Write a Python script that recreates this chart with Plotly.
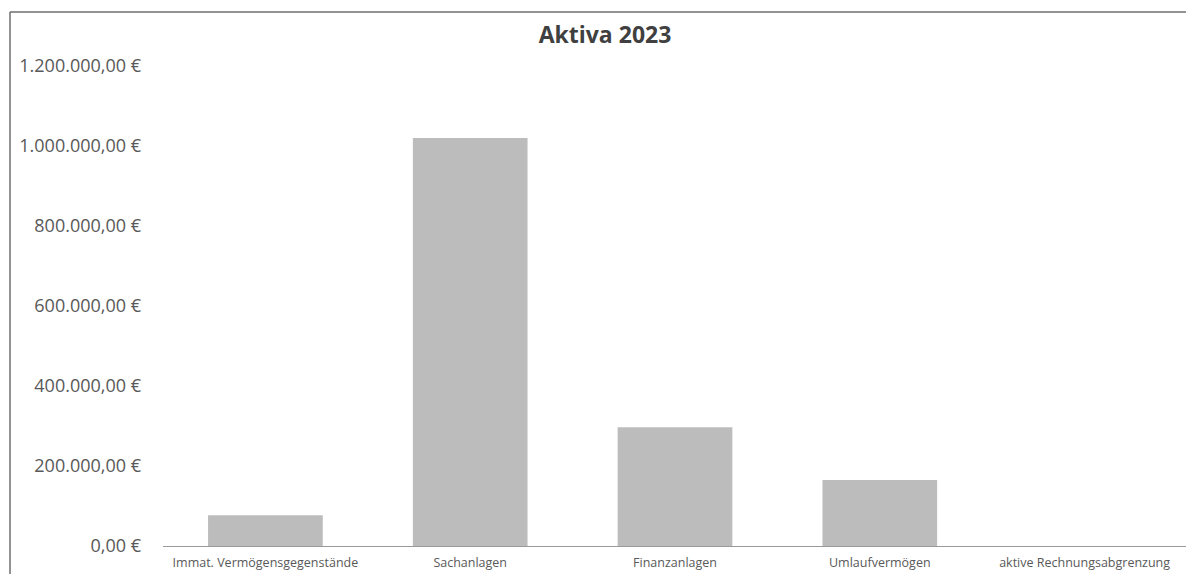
import plotly.graph_objects as go

categories = ["Immat. Vermögensgegenstände", "Sachanlagen", "Finanzanlagen",
              "Umlaufvermögen", "aktive Rechnungsabgrenzung"]
values = [77000, 1020000, 297000, 165000, 0]
tick_values = [0, 200000, 400000, 600000, 800000, 1000000, 1200000]
tick_labels = ["0,00 €", "200.000,00 €", "400.000,00 €", "600.000,00 €",
               "800.000,00 €", "1.000.000,00 €", "1.200.000,00 €"]

W, H = 1194, 574
OFF = 8  # page body offset
ML, MR, MT, MB = 163 - OFF, 15, 66 - OFF, 36
pw, ph = W - ML - MR, H - MT - MB

def px(x):
    return (x - OFF - ML) / pw

def py(y):
    return (H - MB - (y - OFF)) / ph

fig = go.Figure(go.Bar(
    x=categories, y=values,
    marker=dict(color="#bcbcbc", line=dict(width=0)),
))

frame = dict(color="#6e6e6e", width=1.5)
fig.update_layout(
    width=W, height=H,
    margin=dict(l=ML, r=MR, t=MT, b=MB),
    paper_bgcolor="white", plot_bgcolor="white",
    font=dict(family="Open Sans, Noto Sans, sans-serif", color="#595959"),
    title=dict(text="<b>Aktiva 2023</b>", x=px(605), xref="paper", xanchor="center",
               y=1 - (35 - OFF) / H, yanchor="middle",
               font=dict(size=23, color="#404040")),
    bargap=0.44,
    showlegend=False,
    xaxis=dict(showgrid=False, showline=True, linecolor="#9a9a9a", linewidth=1,
               ticks="", tickfont=dict(size=12.5, color="#595959"),
               ticklabelstandoff=5),
    yaxis=dict(range=[0, 1200000], tickvals=tick_values, ticktext=tick_labels,
               showgrid=False, zeroline=False, showline=False, ticks="",
               tickfont=dict(size=18, color="#595959"), ticklabelstandoff=21),
    shapes=[
        dict(type="line", xref="paper", yref="paper", x0=px(10), x1=px(1192),
             y0=py(12), y1=py(12), line=frame),
        dict(type="line", xref="paper", yref="paper", x0=px(10), x1=px(10),
             y0=py(12), y1=py(580), line=frame),
        dict(type="line", xref="paper", yref="paper", x0=px(1192), x1=px(1192),
             y0=py(12), y1=py(580), line=dict(color="#d0d0d0", width=1)),
    ],
)

fig.write_html("out.html")
